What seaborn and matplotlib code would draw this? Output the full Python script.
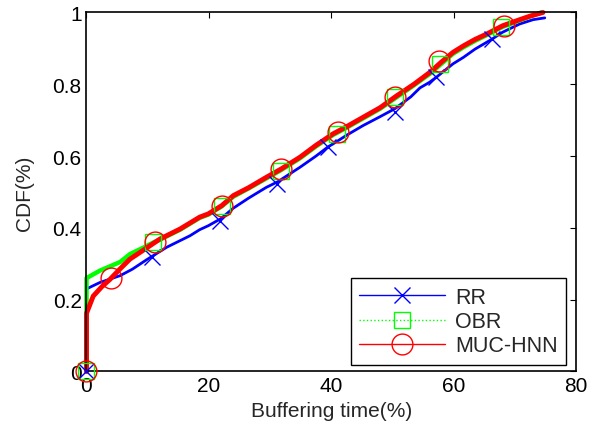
import matplotlib
matplotlib.use("Agg")
import matplotlib.pyplot as plt
import seaborn as sns
import pandas as pd
from matplotlib.lines import Line2D

# curve points (buffering time %, cdf)
rr_x = [0, 0, 2.2, 5.5, 7.5, 9.8, 13.1, 16.9, 18.5, 19.9, 21.9, 24.0, 26.5, 29.4, 31.2,
        34.9, 37.5, 39.5, 40.3, 42.5, 45.2, 48.0, 50.4, 53.0, 54.5, 56.1, 57.2, 59.9,
        61.6, 63.5, 65.4, 66.2, 68.0, 70.8, 73.0, 74.9]
rr_y = [0, 0.23, 0.248, 0.267, 0.285, 0.311, 0.346, 0.378, 0.395, 0.406, 0.425, 0.455,
        0.483, 0.513, 0.528, 0.569, 0.600, 0.626, 0.634, 0.658, 0.685, 0.710, 0.732,
        0.765, 0.790, 0.806, 0.820, 0.857, 0.875, 0.898, 0.917, 0.925, 0.945, 0.968,
        0.980, 0.985]

obr_x = [0, 0, 2.2, 5.5, 7.1, 9.3, 11.0, 12.0, 15.3, 18.5, 19.9, 22.1, 24.0, 26.5, 29.4,
         31.8, 34.9, 37.5, 40.3, 42.5, 45.2, 48.0, 50.7, 53.5, 56.1, 58.0, 59.9, 61.6,
         63.5, 65.4, 68.0, 70.8, 72.5, 74.3]
obr_y = [0, 0.26, 0.281, 0.305, 0.327, 0.345, 0.360, 0.367, 0.395, 0.428, 0.437, 0.460,
         0.487, 0.510, 0.538, 0.561, 0.594, 0.627, 0.659, 0.679, 0.705, 0.732, 0.764,
         0.797, 0.829, 0.857, 0.885, 0.903, 0.921, 0.937, 0.960, 0.978, 0.989, 1.0]

muc_x = [0, 0, 1.1, 2.5, 3.8, 5.5, 7.1, 9.3, 12.0, 15.3, 18.5, 19.9, 22.1, 24.0, 26.5,
         29.4, 31.8, 34.9, 37.5, 40.3, 42.5, 45.2, 48.0, 50.7, 53.5, 56.1, 58.0, 59.9,
         61.6, 63.5, 65.4, 68.0, 70.8, 72.5, 74.6]
muc_y = [0, 0.162, 0.210, 0.236, 0.256, 0.286, 0.313, 0.338, 0.369, 0.397, 0.430, 0.439,
         0.462, 0.490, 0.512, 0.541, 0.564, 0.597, 0.630, 0.662, 0.682, 0.708, 0.735,
         0.768, 0.800, 0.833, 0.862, 0.889, 0.907, 0.925, 0.940, 0.963, 0.980, 0.990, 1.0]

# marker positions
rr_mx = [0, 10.75, 21.9, 31.2, 39.5, 50.4, 57.2, 66.2]
rr_my = [0, 0.318, 0.42, 0.522, 0.626, 0.722, 0.82, 0.926]
obr_mx = [0, 10.9, 22.1, 31.8, 40.9, 50.4, 57.8, 67.8]
obr_my = [0, 0.36, 0.46, 0.559, 0.662, 0.764, 0.857, 0.959]
muc_mx = [0, 3.95, 11.2, 22.1, 31.8, 41.1, 50.5, 57.6, 68.2]
muc_my = [0, 0.26, 0.362, 0.462, 0.564, 0.666, 0.764, 0.864, 0.963]

labels = ["RR", "OBR", "MUC-HNN"]
x_ticks = [0, 20, 40, 60, 80]
y_ticks = [0, 0.2, 0.4, 0.6, 0.8, 1]
y_tick_labels = ["0", "0.2", "0.4", "0.6", "0.8", "1"]

sns.set_style("white")
plt.rcParams["font.family"] = ["Liberation Sans", "DejaVu Sans"]
plt.rcParams["font.size"] = 15

fig = plt.figure(figsize=(5.99, 4.35), dpi=100)
ax = fig.add_axes([0.1444, 0.1437, 0.8172, 0.8253])

# thick cdf curves
curves = [(rr_x, rr_y, "#0000ff", 2.0), (obr_x, obr_y, "#00ff00", 3.2), (muc_x, muc_y, "#ff0000", 3.5)]
for xs, ys, col, lw in curves:
    d = pd.DataFrame({"x": xs, "y": ys})
    sns.lineplot(data=d, x="x", y="y", sort=False, estimator=None, color=col, lw=lw,
                 ax=ax, clip_on=False)

# markers
ax.plot(rr_mx, rr_my, ls="none", marker="x", ms=12, mew=1, color="#0000ff", clip_on=False, zorder=5)
ax.plot(obr_mx, obr_my, ls="none", marker="s", ms=12, mew=1, mfc="none", color="#00ff00",
        clip_on=False, zorder=5)
ax.plot(muc_mx, muc_my, ls="none", marker="o", ms=15, mew=1, mfc="none", color="#ff0000",
        clip_on=False, zorder=5)

ax.set_xlim(0, 80)
ax.set_ylim(0, 1)
ax.set_xticks(x_ticks)
ax.set_yticks(y_ticks, y_tick_labels)
ax.set_xlabel("Buffering time(%)", fontsize=15)
ax.set_ylabel("CDF(%)", fontsize=15)
ax.yaxis.set_label_coords(-0.108, 0.5)
ax.tick_params(direction="in", top=True, right=True, length=4, width=0.8,
               labelsize=15, colors="black")
for s in ax.spines.values():
    s.set_linewidth(1.2)
    s.set_color("black")

handles = [
    Line2D([], [], color="#0000ff", lw=1, marker="x", ms=12, mew=1),
    Line2D([], [], color="#00ff00", lw=1, ls=":", marker="s", ms=12, mew=1, mfc="none"),
    Line2D([], [], color="#ff0000", lw=1, marker="o", ms=15, mew=1, mfc="none"),
]
leg = ax.legend(handles, labels, loc="lower right", bbox_to_anchor=(0.98, 0.018),
                borderaxespad=0, fancybox=False, framealpha=1, edgecolor="black",
                handlelength=4, handletextpad=0.45, borderpad=0.4, labelspacing=0.15,
                fontsize=15.5)
leg.get_frame().set_linewidth(1.0)
leg.set_zorder(10)

fig.savefig("out.png", dpi=100)
